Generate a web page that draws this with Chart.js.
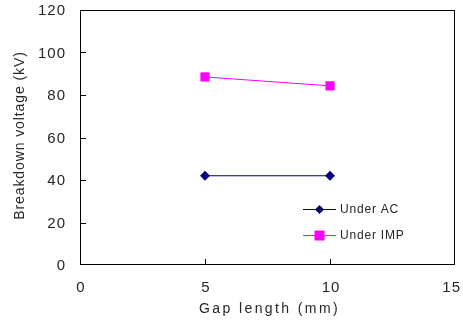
<!DOCTYPE html>
<html><head><meta charset="utf-8">
<script src="https://cdn.jsdelivr.net/npm/chart.js@4/dist/chart.umd.min.js"></script>
<style>html,body{margin:0;padding:0;background:#fff;overflow:hidden}#wrap{width:463px;height:320px}canvas{display:block}</style>
</head><body><div id="wrap"><canvas id="c" width="463" height="320"></canvas></div>
<script>
const gapLengths = [5, 10];
const acValues = [42, 42];
const impValues = [88.5, 84.3];
const seriesNames = ['Under AC', 'Under IMP'];
const xTicks = [0, 5, 10, 15];
const yTicks = [0, 20, 40, 60, 80, 100, 120];
const xTitle = 'Gap length (mm)';
const yTitle = 'Breakdown voltage (kV)';
const FONT = '"Liberation Sans", Arial, sans-serif';
const TEXT = '#262626';

const frame = {
  id: 'frame',
  afterDraw(chart) {
    const {ctx, chartArea: a, scales: {x, y}} = chart;
    const L = Math.round(a.left), R = Math.round(a.right);
    const T = Math.round(a.top), B = Math.round(a.bottom);
    ctx.save();
    ctx.fillStyle = '#000';
    ctx.fillRect(L, T, R - L, 1);
    ctx.fillRect(L, B - 1, R - L, 1);
    ctx.fillRect(L, T, 1, B - T);
    ctx.fillRect(R - 1, T, 1, B - T);
    xTicks.forEach(v => { const px = Math.min(R - 1, Math.round(x.getPixelForValue(v))); ctx.fillRect(px, B - 6, 1, 6); });
    yTicks.forEach(v => { const py = Math.min(B - 1, Math.round(y.getPixelForValue(v))); ctx.fillRect(L, py, 6, 1); });

    // tick labels
    ctx.fillStyle = TEXT;
    ctx.font = '15px ' + FONT;
    ctx.letterSpacing = '1px';
    ctx.textBaseline = 'middle';
    ctx.textAlign = 'right';
    yTicks.forEach(v => ctx.fillText(String(v), a.left - 14, y.getPixelForValue(v) + 1));
    xTicks.forEach(v => {
      const s = String(v);
      const w = ctx.measureText(s).width;
      let cx = x.getPixelForValue(v) + 1;
      cx = Math.min(cx, 461 - w / 2);
      ctx.textAlign = 'center';
      ctx.fillText(s, cx, a.bottom + 23);
    });

    // titles
    ctx.textAlign = 'center';
    ctx.font = '14px ' + FONT;
    ctx.letterSpacing = '2.4px';
    ctx.fillText(xTitle, (a.left + a.right) / 2 + 2, 309);
    ctx.save();
    ctx.translate(20, (a.top + a.bottom) / 2 - 2);
    ctx.rotate(-Math.PI / 2);
    ctx.font = '14px ' + FONT;
    ctx.letterSpacing = '0.9px';
    ctx.fillText(yTitle, 0, 0);
    ctx.restore();

    // legend
    const ds = chart.data.datasets;
    const lx = 303, ly = [209, 235];
    ds.forEach((d, i) => {
      ctx.fillStyle = d.borderColor;
      ctx.fillRect(lx, ly[i], 33, 1);
      ctx.fillStyle = d.pointBackgroundColor;
      if (d.pointStyle === 'rectRot') {
        const cx = lx + 16.5, cy = ly[i] + 0.5, r = 4.5;
        ctx.beginPath(); ctx.moveTo(cx, cy - r); ctx.lineTo(cx + r, cy); ctx.lineTo(cx, cy + r); ctx.lineTo(cx - r, cy); ctx.closePath(); ctx.fill();
      } else {
        ctx.fillRect(lx + 16.5 - 5, ly[i] + 0.5 - 5, 10, 10);
      }
      ctx.fillStyle = TEXT;
      ctx.font = '12px ' + FONT;
      ctx.textBaseline = 'middle'; ctx.textAlign = 'left';
      ctx.letterSpacing = '0.8px';
      ctx.fillText(d.label, lx + 37, ly[i] + 1);
    });
    ctx.restore();
  }
};

const fixPad = s => { s.paddingTop = 0; s.paddingBottom = 0; s.paddingLeft = 0; s.paddingRight = 0; };

new Chart(document.getElementById('c'), {
  type: 'line',
  data: {
    datasets: [
      { label: seriesNames[0], data: gapLengths.map((g, i) => ({x: g, y: acValues[i]})),
        borderColor: '#000080', backgroundColor: '#000080', pointBackgroundColor: '#000080', pointBorderColor: '#000080',
        pointStyle: 'rectRot', pointRadius: 5, borderWidth: 1, pointBorderWidth: 0 },
      { label: seriesNames[1], data: gapLengths.map((g, i) => ({x: g, y: impValues[i]})),
        borderColor: '#FF00FF', backgroundColor: '#FF00FF', pointBackgroundColor: '#FF00FF', pointBorderColor: '#FF00FF',
        pointStyle: 'rect', pointRadius: 6.5, borderWidth: 1, pointBorderWidth: 0 }
    ]
  },
  options: {
    responsive: false, animation: false, devicePixelRatio: 1,
    layout: { padding: { left: 0, right: 8, top: 10, bottom: 0 } },
    plugins: { legend: { display: false }, tooltip: { enabled: false } },
    scales: {
      x: { type: 'linear', min: 0, max: 15,
        afterBuildTicks: s => { s.ticks = xTicks.map(v => ({value: v})); },
        afterFit: s => { s.height = 55; fixPad(s); },
        grid: { display: false }, border: { display: false },
        ticks: { display: false } },
      y: { min: 0, max: 120,
        afterBuildTicks: s => { s.ticks = yTicks.map(v => ({value: v})); },
        afterFit: s => { s.width = 80; fixPad(s); },
        grid: { display: false }, border: { display: false },
        ticks: { display: false } }
    }
  },
  plugins: [frame]
});
</script></body></html>
